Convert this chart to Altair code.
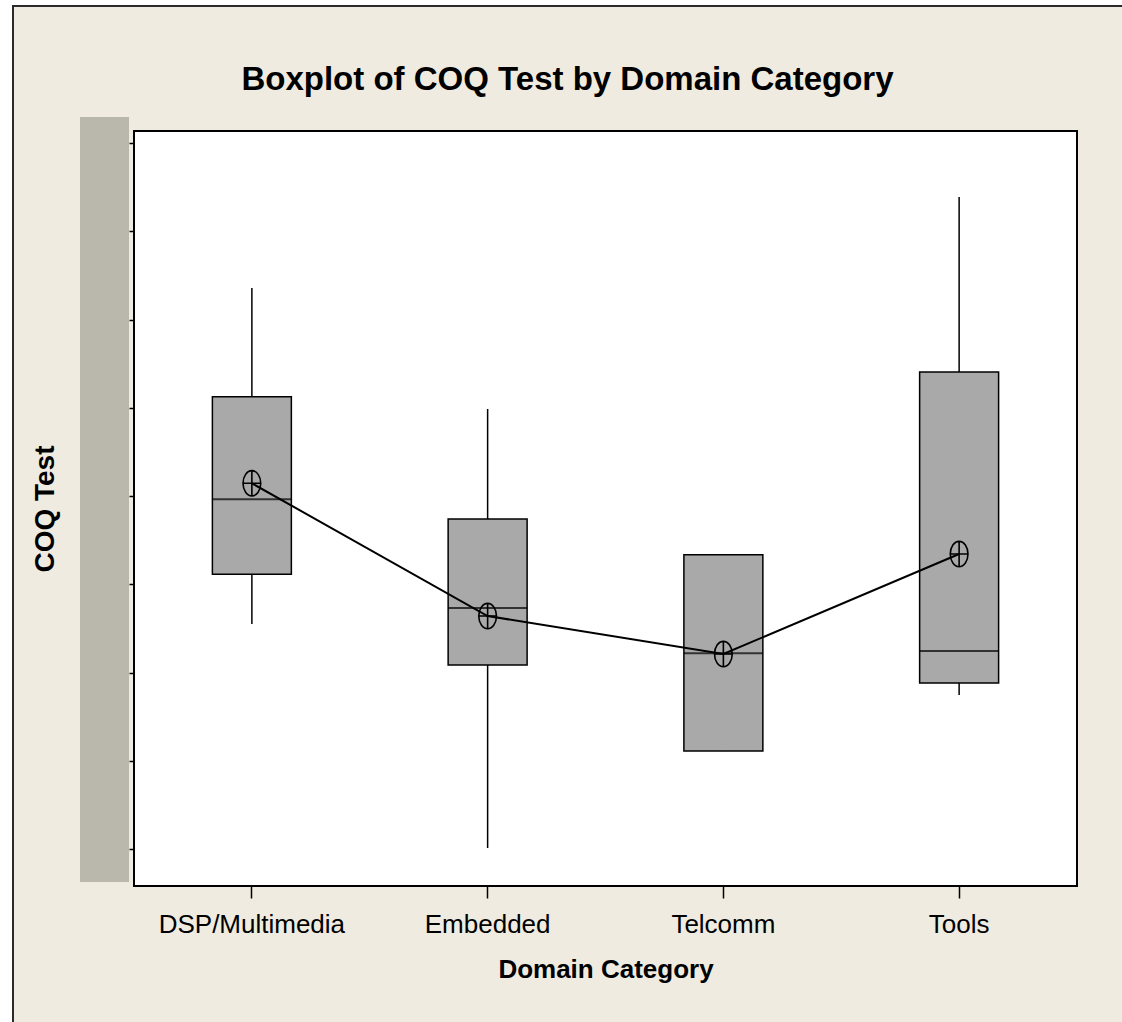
import altair as alt
import pandas as pd

categories = ["DSP/Multimedia", "Embedded", "Telcomm", "Tools"]
whisker_low = [2.550, 0.011, 1.110, 1.745]
q1 = [3.113, 2.085, 1.110, 1.881]
median = [3.963, 2.731, 2.218, 2.244]
q3 = [5.125, 3.739, 3.335, 5.405]
whisker_high = [6.357, 4.986, 3.335, 7.388]
mean = [4.144, 2.640, 2.210, 3.343]
y_ticks = [0, 1, 2, 3, 4, 5, 6, 7, 8]

df = pd.DataFrame({
    "cat": categories, "wl": whisker_low, "q1": q1, "med": median,
    "q3": q3, "wh": whisker_high, "mean": mean,
})

FONT = "Liberation Sans, Arial, sans-serif"
BEIGE = "#EFEBE1"

xscale = alt.Scale(domain=categories, paddingInner=0.665, paddingOuter=0.3325)
yscale = alt.Scale(domain=[-0.419, 8.136], nice=False, zero=False)

xenc = alt.X("cat:N", scale=xscale, sort=categories, title="Domain Category",
             axis=alt.Axis(labelAngle=0, labelFont=FONT, labelFontSize=26,
                           labelColor="black", labelBaseline="alphabetic",
                           labelPadding=34, labelLimit=0, tickSize=12,
                           tickColor="black", tickWidth=1.5, domain=False,
                           titleFont=FONT, titleFontSize=26,
                           titleFontWeight="bold", titleColor="black",
                           titleY=91, titleBaseline="alphabetic"))

yaxis = alt.Axis(values=y_ticks, labels=False, tickSize=5, tickColor="black",
                 tickWidth=1.5, grid=False, domain=False,
                 titleFont=FONT, titleFontSize=28, titleFontWeight="bold",
                 titleColor="black", titleX=-81, titleY=377.5, titleAngle=270,
                 titleAlign="center", titleBaseline="alphabetic")

one = alt.Data(values=[{"a": 1}])

white_left = alt.Chart(one).mark_rect(color="white").encode(
    x=alt.value(-134), x2=alt.value(-122), y=alt.value(-131), y2=alt.value(891))
white_top = alt.Chart(one).mark_rect(color="white").encode(
    x=alt.value(-134), x2=alt.value(988), y=alt.value(-131), y2=alt.value(-126))
frame_left = alt.Chart(one).mark_rule(color="#2b2b2b", strokeWidth=2).encode(
    x=alt.value(-121), y=alt.value(-126), y2=alt.value(891))
frame_top = alt.Chart(one).mark_rule(color="#2b2b2b", strokeWidth=2).encode(
    y=alt.value(-125), x=alt.value(-122), x2=alt.value(988))
gray_bar = alt.Chart(one).mark_rect(color="#BAB8AC").encode(
    x=alt.value(-54), x2=alt.value(-5), y=alt.value(-14), y2=alt.value(751))

base = alt.Chart(df)

whiskers = base.mark_rule(color="black", strokeWidth=1.5).encode(
    x=xenc,
    y=alt.Y("wl:Q", scale=yscale, axis=yaxis, title="COQ Test"),
    y2="wh:Q",
)
boxes = base.mark_bar(color="#A9A9A9", stroke="black", strokeWidth=1.5).encode(
    x=xenc, y=alt.Y("q1:Q", scale=yscale), y2="q3:Q")
medians = base.mark_tick(color="black", thickness=2, size=79).encode(
    x=xenc, y=alt.Y("med:Q", scale=yscale))
mean_line = base.mark_line(color="black", strokeWidth=2).encode(
    x=xenc, y=alt.Y("mean:Q", scale=yscale))
ellipse = "M-0.7,0A0.7,1,0,1,0,0.7,0A0.7,1,0,1,0,-0.7,0ZM-0.7,0L0.7,0M0,-1L0,1"
mean_pts = base.mark_point(shape=ellipse, size=640, filled=False, color="black",
                           strokeWidth=1.6, opacity=1).encode(
    x=xenc, y=alt.Y("mean:Q", scale=yscale))

chart = alt.layer(
    white_left, white_top, frame_left, frame_top, gray_bar,
    whiskers, boxes, medians, mean_line, mean_pts,
).properties(
    width=943, height=755,
    padding={"left": 134, "top": 131, "right": 45, "bottom": 136},
    autosize=alt.AutoSizeParams(type="none"),
    title=alt.TitleParams("Boxplot of COQ Test by Domain Category",
                          font=FONT, fontSize=33, fontWeight="bold",
                          color="black", anchor="middle", dx=-38, dy=123,
                          baseline="alphabetic", offset=0),
).configure(background=BEIGE).configure_view(
    stroke="black", strokeWidth=2, fill="white")

chart.save("out.html", embed_options={"renderer": "svg", "actions": False})
